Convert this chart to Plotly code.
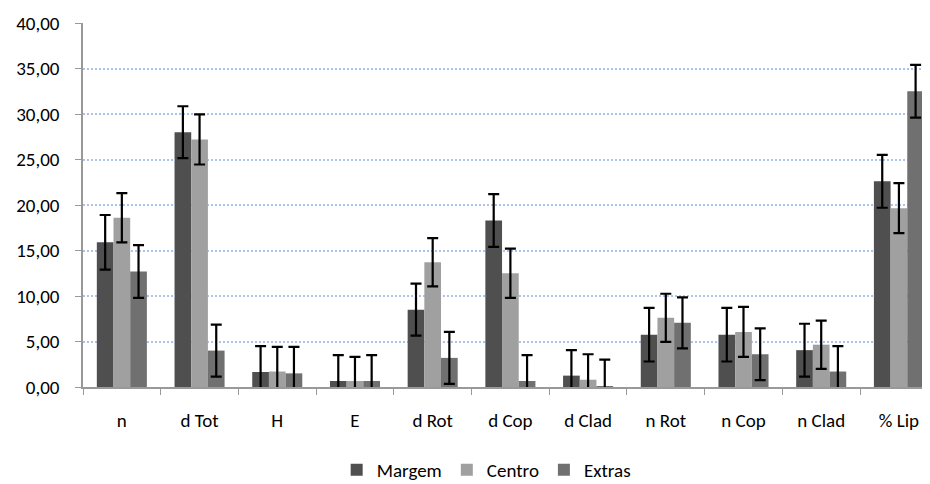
import plotly.graph_objects as go

categories = ["n", "d Tot", "H", "E", "d Rot", "d Cop", "d Clad", "n Rot", "n Cop", "n Clad", "% Lip"]
margem = [15.9, 28.0, 1.65, 0.66, 8.5, 18.3, 1.25, 5.75, 5.75, 4.05, 22.6]
margem_err = [3.0, 2.85, 2.85, 2.85, 2.85, 2.9, 2.8, 2.95, 2.95, 2.9, 2.9]
centro = [18.6, 27.2, 1.7, 0.66, 13.7, 12.5, 0.8, 7.6, 6.05, 4.65, 19.65]
centro_err = [2.7, 2.75, 2.7, 2.65, 2.65, 2.7, 2.8, 2.65, 2.75, 2.65, 2.75]
extras = [12.7, 4.0, 1.5, 0.66, 3.2, 0.66, 0.1, 7.05, 3.6, 1.7, 32.5]
extras_err = [2.9, 2.85, 2.9, 2.85, 2.85, 2.85, 2.9, 2.8, 2.85, 2.8, 2.9]
y_ticks = [0, 5, 10, 15, 20, 25, 30, 35, 40]

series = [
    ("Margem", margem, margem_err, "#4f4f4f"),
    ("Centro", centro, centro_err, "#a0a0a0"),
    ("Extras", extras, extras_err, "#707070"),
]

FONT = "Carlito, Lato, 'Liberation Sans', sans-serif"

fig = go.Figure()
for name, vals, errs, color in series:
    fig.add_trace(go.Bar(
        name=name, x=categories, y=vals,
        marker=dict(color=color, line=dict(width=0)),
        error_y=dict(type="data", array=errs, visible=True,
                     color="#000000", thickness=2.2, width=5.5),
    ))

fig.update_layout(
    width=922, height=476,
    margin=dict(l=75, r=0, t=15, b=97, autoexpand=False),
    paper_bgcolor="white", plot_bgcolor="white",
    barmode="group", bargap=0.356, bargroupgap=0,
    separators=", ",
    font=dict(family=FONT, size=19, color="#000000"),
    showlegend=True,
    legend=dict(orientation="h", x=0.476, xanchor="center", y=-0.228, yanchor="middle",
                font=dict(size=19, color="#000000"), itemwidth=30, traceorder="normal"),
    xaxis=dict(
        type="category", range=[-0.5, 10.4], automargin=False,
        showline=True, linecolor="#999999", linewidth=1.5,
        ticks="outside", tickson="boundaries", ticklen=6, tickcolor="#999999",
        ticklabelstandoff=15, showgrid=False,
        tickfont=dict(size=19, color="#000000"),
    ),
    yaxis=dict(
        range=[0, 40], tickvals=y_ticks, tickformat=".2f", automargin=False,
        showline=True, linecolor="#999999", linewidth=1.5,
        ticks="outside", ticklen=6, tickcolor="#999999",
        ticklabelstandoff=12,
        showgrid=True, gridcolor="#a9c3ec", griddash="2px,2px", gridwidth=2,
        zeroline=False,
        tickfont=dict(size=19, color="#000000"),
    ),
)

fig.write_html("out.html")
